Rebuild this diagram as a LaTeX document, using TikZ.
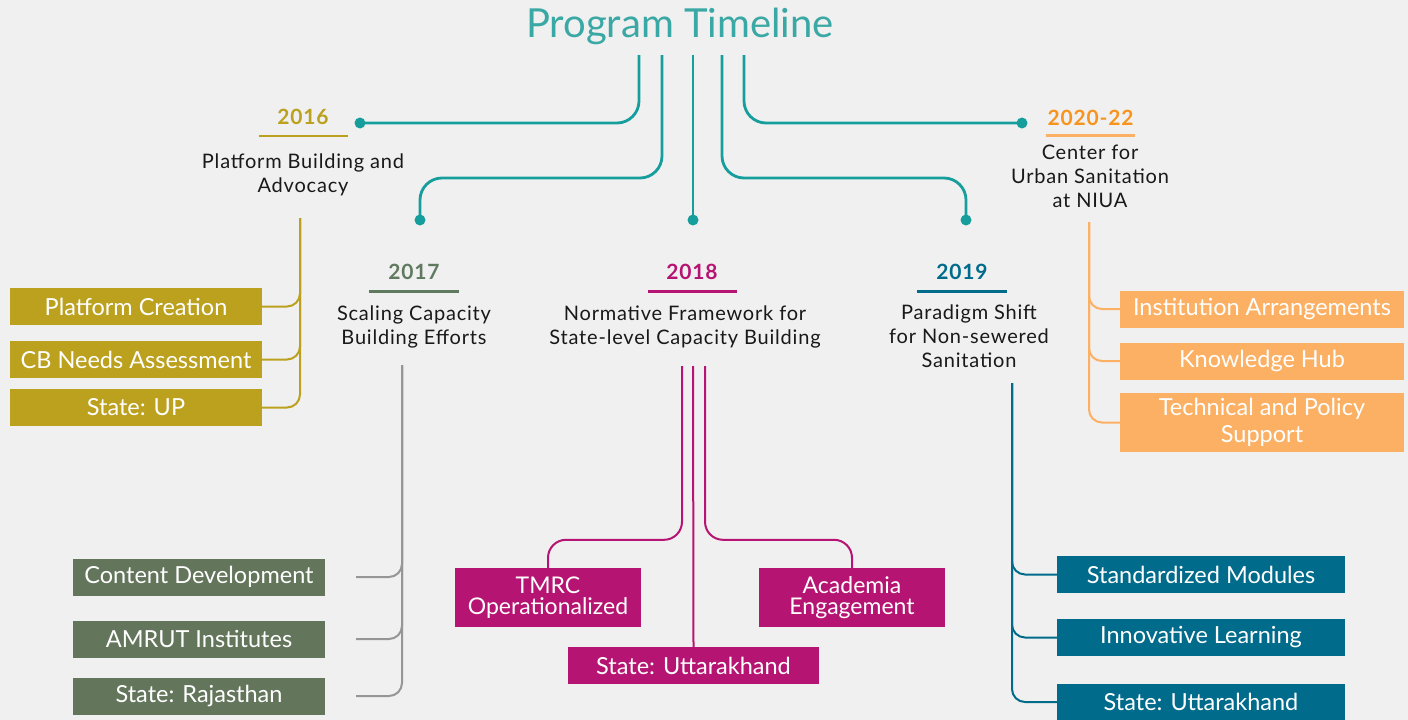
\documentclass[tikz,border=0pt]{standalone}
\usepackage{fontspec}
\setmainfont{Lato}
\newfontfamily\descfont[LetterSpace=4]{Lato}
\newfontfamily\yearfont[LetterSpace=4]{Lato}
\usetikzlibrary{calc}
\definecolor{bgcolor}{RGB}{240,240,240}
\definecolor{linkteal}{RGB}{22,158,156}
\definecolor{titleteal}{RGB}{58,168,164}
\definecolor{gold16}{RGB}{188,161,31}
\definecolor{sage17}{RGB}{95,122,95}
\definecolor{sagebox}{RGB}{99,117,91}
\definecolor{grey17}{RGB}{150,150,150}
\definecolor{rose18}{RGB}{182,20,114}
\definecolor{blue19}{RGB}{0,107,138}
\definecolor{orange20}{RGB}{247,148,29}
\definecolor{peach20}{RGB}{251,176,99}

\begin{document}
\begin{tikzpicture}[x=1pt,y=-1pt,
  year/.style={font=\yearfont\bfseries\fontsize{21}{24}\selectfont, anchor=base, inner sep=0pt},
  desc/.style={font=\descfont\fontsize{20}{24}\selectfont, align=center, anchor=north, inner sep=0pt, text=black!90},
  box/.style={text=white, font=\fontsize{23.5}{22}\selectfont, align=center, inner sep=0pt, minimum height=37pt},
  dot/.style={circle, fill=linkteal, inner sep=0pt, minimum size=11pt},
  link/.style={linkteal, line width=2.8pt, rounded corners=22pt},
  branch/.style={line width=2pt, rounded corners=13pt}]
\fill[bgcolor] (0,0) rectangle (1408,720);
\useasboundingbox (0,0) rectangle (1408,720);

\node[font=\fontsize{40}{44}\selectfont, text=titleteal, inner sep=0pt] (title) at (680,26) {Program Timeline};
\coordinate (t1) at (639,55);
\coordinate (t2) at (662,55);
\coordinate (t3) at (693,55);
\coordinate (t4) at (722,55);
\coordinate (t5) at (744,55);
\node[dot] (d16) at (360,123) {};
\node[dot] (d17) at (420,220) {};
\node[dot] (d18) at (693,220) {};
\node[dot] (d19) at (966,220) {};
\node[dot] (d20) at (1022,123) {};
\draw[link] (t1) |- (d16.center);
\draw[link] (t2) |- ($(d17.center)+(0,-42)$) -- (d17.center);
\draw[link] (t3) -- (d18.center);
\draw[link] (t4) |- ($(d19.center)+(0,-42)$) -- (d19.center);
\draw[link] (t5) |- (d20.center);

\node[year, text=gold16] (y16) at (303,124) {2016};
\draw[gold16, line width=2.8pt] ($(y16.base)+(-44.5,12)$) -- ($(y16.base)+(44.5,12)$);
\node[desc] (s16) at (303,154) {Platform Building and\\Advocacy};
\coordinate (v16) at (300,218);
\node[box, fill=gold16, minimum width=252pt] (b16a) at (136,306.5) {Platform Creation};
\node[box, fill=gold16, minimum width=252pt] (b16b) at (136,359.5) {CB Needs Assessment};
\node[box, fill=gold16, minimum width=252pt] (b16c) at (136,407.5) {State: UP};
\draw[branch, gold16] (v16) |- (b16a.east);
\draw[branch, gold16] (v16) |- (b16b.east);
\draw[branch, gold16] (v16) |- (b16c.east);

\node[year, text=sage17] (y17) at (414,279) {2017};
\draw[sage17, line width=2.8pt] ($(y17.base)+(-45,12.5)$) -- ($(y17.base)+(45,12.5)$);
\node[desc] (s17) at (414,306) {Scaling Capacity\\Building Efforts};
\coordinate (v17) at (402,365);
\node[box, fill=sagebox, minimum width=252pt] (b17a) at (199,577) {Content Development};
\node[box, fill=sagebox, minimum width=252pt] (b17b) at (199,639) {AMRUT Institutes};
\node[box, fill=sagebox, minimum width=252pt] (b17c) at (199,696) {State: Rajasthan};
\coordinate (e17a) at ($(b17a.east)+(31,0)$);
\coordinate (e17b) at ($(b17b.east)+(31,0)$);
\coordinate (e17c) at ($(b17c.east)+(31,0)$);
\draw[branch, grey17] (v17) |- (e17a);
\draw[branch, grey17] (v17) |- (e17b);
\draw[branch, grey17] (v17) |- (e17c);

\node[year, text=rose18] (y18) at (692,279) {2018};
\draw[rose18, line width=2.8pt] ($(y18.base)+(-44.5,12.5)$) -- ($(y18.base)+(44.5,12.5)$);
\node[desc] (s18) at (685,306) {Normative Framework for\\State-level Capacity Building};
\coordinate (m18a) at (682,366);
\coordinate (m18b) at (693,366);
\coordinate (m18c) at (705,366);
\node[box, fill=rose18, minimum width=186pt, minimum height=59pt, font=\fontsize{23}{21}\selectfont] (b18a) at (548,597.5) {TMRC\\Operationalized};
\node[box, fill=rose18, minimum width=186pt, minimum height=59pt, font=\fontsize{23}{21}\selectfont] (b18b) at (852,597.5) {Academia\\Engagement};
\node[box, fill=rose18, minimum width=251pt] (b18c) at (693.5,665.5) {State: Uttarakhand};
\draw[branch, rose18, rounded corners=18pt] (m18a) |- ($(b18a.north)+(0,-28)$) -- (b18a.north);
\draw[branch, rose18] (m18b) -- (b18c.north);
\draw[branch, rose18, rounded corners=18pt] (m18c) |- ($(b18b.north)+(0,-28)$) -- (b18b.north);

\node[year, text=blue19] (y19) at (962,279) {2019};
\draw[blue19, line width=2.8pt] ($(y19.base)+(-45,12.5)$) -- ($(y19.base)+(45,12.5)$);
\node[desc] (s19) at (969,305) {Paradigm Shift\\for Non-sewered\\Sanitation};
\coordinate (v19) at (1012,383);
\node[box, fill=blue19, minimum width=288pt] (b19a) at (1201,574.5) {Standardized Modules};
\node[box, fill=blue19, minimum width=288pt] (b19b) at (1201,637.5) {Innovative Learning};
\node[box, fill=blue19, minimum width=288pt] (b19c) at (1201,702) {State: Uttarakhand};
\draw[branch, blue19] (v19) |- (b19a.west);
\draw[branch, blue19] (v19) |- (b19b.west);
\draw[branch, blue19] (v19) |- (b19c.west);

\node[year, text=orange20] (y20) at (1090.5,125) {2020-22};
\draw[peach20, line width=2.8pt] ($(y20.base)+(-44.5,10.5)$) -- ($(y20.base)+(44.5,10.5)$);
\node[desc] (s20) at (1090,145) {Center for\\Urban Sanitation\\at NIUA};
\coordinate (v20) at (1089,222);
\node[box, fill=peach20, minimum width=284pt] (b20a) at (1262,309) {Institution Arrangements};
\node[box, fill=peach20, minimum width=284pt] (b20b) at (1262,361) {Knowledge Hub};
\node[box, fill=peach20, minimum width=284pt, minimum height=59pt, font=\fontsize{23.5}{27}\selectfont] (b20c) at (1262,422.5) {Technical and Policy\\Support};
\draw[branch, peach20] (v20) |- (b20a.west);
\draw[branch, peach20] (v20) |- (b20b.west);
\draw[branch, peach20] (v20) |- (b20c.west);
\end{tikzpicture}
\end{document}
